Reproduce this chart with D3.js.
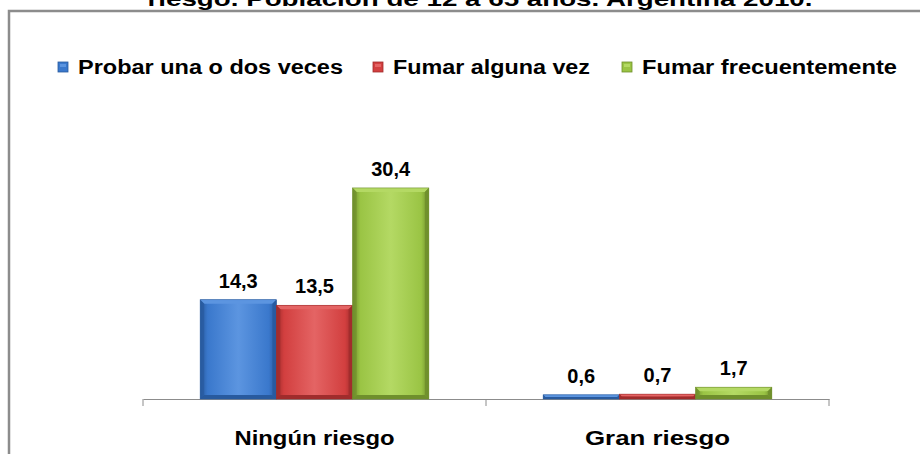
<!DOCTYPE html>
<html><head><meta charset="utf-8">
<script src="https://cdn.jsdelivr.net/npm/d3@7"></script>
<style>
body{margin:0;background:#fff;}
svg{display:block;font-family:"Liberation Sans",Arial,sans-serif;font-weight:bold;}
</style></head><body>
<svg id="c" width="920" height="454"></svg>
<script>
const title = "riesgo. Población de 12 a 65 años. Argentina 2010.";
const categories = ["Ningún riesgo", "Gran riesgo"];
const seriesNames = ["Probar una o dos veces", "Fumar alguna vez", "Fumar frecuentemente"];
const probar = [14.3, 0.6];
const fumarAlguna = [13.5, 0.7];
const fumarFrec = [30.4, 1.7];
const valueLabels = [["14,3","0,6"],["13,5","0,7"],["30,4","1,7"]];

const colors = [
  {base:"#3a78cc", light:"#5c95e0", dark:"#285a9e"},
  {base:"#d23f3f", light:"#e46464", dark:"#a02c2c"},
  {base:"#9ac444", light:"#b4d964", dark:"#6f8f2c"}
];

const svg = d3.select("#c");
const defs = svg.append("defs");
colors.forEach((c,i)=>{
  const g = defs.append("linearGradient").attr("id","g"+i).attr("x1",0).attr("x2",1).attr("y1",0).attr("y2",0);
  g.append("stop").attr("offset","0%").attr("stop-color",c.dark);
  g.append("stop").attr("offset","10%").attr("stop-color",c.base);
  g.append("stop").attr("offset","50%").attr("stop-color",c.light);
  g.append("stop").attr("offset","90%").attr("stop-color",c.base);
  g.append("stop").attr("offset","100%").attr("stop-color",c.dark);
});

// frame
svg.append("path").attr("d","M9,454 V11 H920").attr("fill","none").attr("stroke","#8c8c8c").attr("stroke-width",2.5);

// title (cut off at top, as in the reference)
svg.append("text").attr("x",480).attr("y",6).attr("text-anchor","middle")
  .attr("font-size",21).attr("textLength",665).attr("lengthAdjust","spacingAndGlyphs").attr("fill","#000").text(title);

const x0 = d3.scaleBand().domain(categories).range([143,829]).paddingInner(0).paddingOuter(0);
const x1 = d3.scaleBand().domain(d3.range(3)).range([0,x0.bandwidth()]).paddingInner(0).paddingOuter(0.75);
const y = d3.scaleLinear().domain([0,35]).range([399,156]);

const series = [probar, fumarAlguna, fumarFrec];

// axis
const axis = d3.axisBottom(x0).tickSize(0).tickSizeOuter(0).tickFormat("");
const ax = svg.append("g").attr("transform","translate(0,399)").call(axis);
ax.select(".domain").attr("stroke","#8c8c8c").attr("stroke-width",1);
ax.selectAll(".tick").remove();
const bounds = [x0.range()[0], x0(categories[1]), x0.range()[1]];
svg.append("g").selectAll("line").data(bounds).join("line")
  .attr("x1",d=>d).attr("x2",d=>d).attr("y1",399).attr("y2",406).attr("stroke","#8c8c8c");

svg.append("g").selectAll("text").data(categories).join("text")
  .attr("x",d=>x0(d)+x0.bandwidth()/2).attr("y",445).attr("text-anchor","middle")
  .attr("font-size",20).attr("fill","#000").attr("textLength",d=>d==="Ningún riesgo"?160:145).attr("lengthAdjust","spacingAndGlyphs").text(d=>d);

// bars
const bars = svg.append("g");
series.forEach((vals,si)=>{
  vals.forEach((v,ci)=>{
    const bx = x0(categories[ci]) + x1(si);
    const bw = x1.bandwidth();
    const by = y(v), bh = y(0)-y(v);
    const c = colors[si];
    const g = bars.append("g");
    g.append("rect").attr("x",bx).attr("y",by).attr("width",bw).attr("height",bh).attr("fill",`url(#g${si})`);
    const e = Math.min(4, bh/2);
    g.append("path").attr("d",`M${bx},${by} H${bx+bw} L${bx+bw-e},${by+e} H${bx+e} Z`).attr("fill",c.light);
    g.append("path").attr("d",`M${bx},${by} L${bx+e},${by+e} V${by+bh-e} L${bx},${by+bh} Z`).attr("fill",c.dark).attr("opacity",0.7);
    g.append("path").attr("d",`M${bx+bw},${by} L${bx+bw-e},${by+e} V${by+bh-e} L${bx+bw},${by+bh} Z`).attr("fill",c.dark).attr("opacity",0.9);
    g.append("path").attr("d",`M${bx},${by+bh} L${bx+e},${by+bh-e} H${bx+bw-e} L${bx+bw},${by+bh} Z`).attr("fill",c.dark);
    g.append("rect").attr("x",bx).attr("y",by).attr("width",bw).attr("height",bh).attr("fill","none").attr("stroke",c.dark).attr("stroke-width",0.6);
    svg.append("text").attr("x",bx+bw/2).attr("y",by-12).attr("text-anchor","middle")
      .attr("font-size",20).attr("fill","#000").text(valueLabels[si][ci]);
  });
});

// legend
const legendX = [58, 373, 622];
const legendW = [265, 197, 255];
const lg = svg.append("g");
seriesNames.forEach((n,i)=>{
  const c = colors[i];
  lg.append("rect").attr("x",legendX[i]).attr("y",62).attr("width",10).attr("height",10).attr("fill",c.base).attr("stroke",c.dark).attr("stroke-width",0.8);
  lg.append("rect").attr("x",legendX[i]+2).attr("y",64).attr("width",6).attr("height",3).attr("fill",c.light);
  lg.append("text").attr("x",legendX[i]+20).attr("y",74).attr("font-size",20).attr("fill","#000")
    .attr("textLength",legendW[i]).attr("lengthAdjust","spacingAndGlyphs").text(n);
});
</script>
</body></html>
